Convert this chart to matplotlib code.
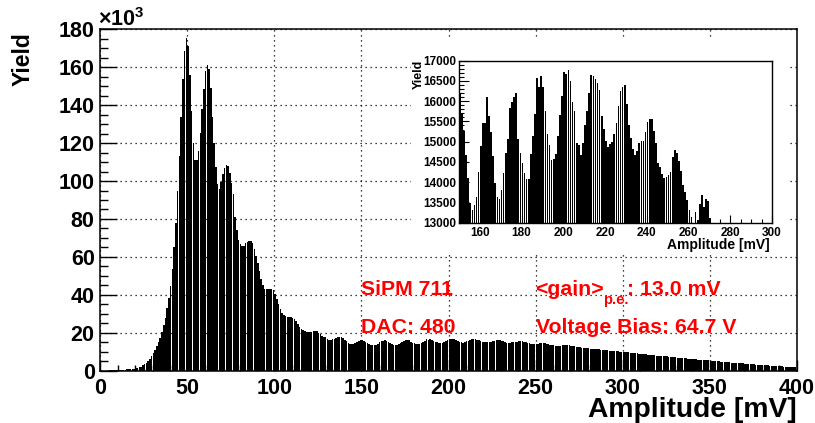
import matplotlib
matplotlib.use("Agg")
import matplotlib.pyplot as plt
from matplotlib.ticker import MultipleLocator

plt.rcParams['font.family'] = ['Liberation Sans', 'DejaVu Sans']
plt.rcParams['font.weight'] = 'bold'
plt.rcParams['mathtext.fontset'] = 'custom'
plt.rcParams['mathtext.rm'] = 'Liberation Sans:bold'
plt.rcParams['mathtext.it'] = 'Liberation Sans:bold'
plt.rcParams['mathtext.bf'] = 'Liberation Sans:bold'

# ---------------- data (1 mV bins, yield in thousands) ----------------
bin_low_edges_mV = list(range(0, 400))
yield_k = [
    # 0-9
    0.0, 0.0, 0.0, 0.1, 0.1, 0.2, 0.2, 0.3, 0.3, 0.4,
    # 10-19
    0.4, 0.5, 0.5, 0.6, 0.6, 0.7, 0.8, 0.9, 1.0, 1.1,
    # 20-29
    1.2, 1.5, 1.8, 2.2, 2.8, 3.4, 4.2, 5.2, 6.4, 7.8,
    # 30-39
    9.2, 11.0, 12.8, 15.0, 17.5, 20.5, 24.0, 28.0, 33.0, 38.5,
    # 40-49
    44.6, 53.6, 65.0, 78.0, 94.5, 113.0, 134.0, 153.6, 168.7, 175.5,
    # 50-59
    171.0, 156.0, 136.7, 120.0, 111.0, 111.0, 116.0, 125.5, 137.8, 148.5,
    # 60-69
    158.0, 161.0, 159.0, 149.0, 134.0, 120.0, 107.5, 98.4, 95.6, 99.6,
    # 70-79
    103.7, 106.7, 108.6, 108.0, 104.0, 99.0, 93.0, 81.0, 74.0, 69.0,
    # 80-89
    67.0, 65.7, 66.0, 67.5, 68.0, 68.4, 68.5, 67.5, 64.3, 60.5,
    # 90-99
    56.6, 52.5, 48.2, 45.0, 43.2, 42.9, 43.2, 43.2, 43.2, 42.5,
    # 100-109
    40.6, 38.0, 35.0, 32.3, 30.6, 29.2, 28.8, 28.5, 28.5, 28.3,
    # 110-119
    28.0, 27.4, 26.0, 24.4, 23.2, 22.1, 21.4, 20.7, 20.4, 20.4,
    # 120-129
    20.4, 20.4, 20.7, 20.9, 20.7, 20.0, 19.3, 18.5, 18.0, 17.6,
    # 130-139
    16.8, 16.4, 16.3, 16.5, 16.9, 17.3, 17.6, 17.8, 17.6, 17.0,
    # 140-149
    16.2, 15.4, 14.7, 14.2, 14.0, 14.1, 14.4, 14.9, 15.5, 16.0,
    # 150-159
    16.20, 15.70, 15.26, 14.675, 14.10, 13.49, 13.325, 13.43, 13.63, 14.24,
    # 160-169
    14.89, 15.45, 15.45, 16.11, 15.63, 15.24, 14.65, 13.975, 13.625, 13.58,
    # 170-179
    13.80, 14.23, 14.715, 15.07, 15.82, 15.99, 16.11, 16.21, 15.07, 14.73,
    # 180-189
    14.47, 14.23, 14.08, 14.08, 14.69, 15.14, 15.69, 16.585, 16.36, 16.625,
    # 190-199
    16.34, 15.75, 15.18, 14.91, 14.56, 14.585, 14.69, 15.15, 15.67, 16.13,
    # 200-209
    16.72, 16.68, 16.76, 16.50, 15.99, 15.75, 14.975, 14.91, 14.67, 14.96,
    # 210-219
    15.40, 15.75, 16.20, 16.64, 16.62, 16.56, 16.44, 16.28, 15.63, 15.32,
    # 220-229
    15.02, 14.88, 14.935, 14.99, 15.18, 15.45, 15.89, 16.25, 16.36, 16.40,
    # 230-239
    15.92, 15.42, 15.10, 14.81, 14.67, 14.77, 14.96, 15.02, 15.02, 15.24,
    # 240-249
    15.48, 15.56, 15.56, 15.26, 14.96, 14.47, 14.37, 14.20, 14.10, 14.12,
    # 250-259
    14.18, 14.24, 14.61, 14.80, 14.73, 14.53, 14.28, 13.935, 13.755, 13.55,
    # 260-269
    13.31, 13.15, 12.95, 13.27, 13.065, 13.45, 13.69, 13.39, 13.58, 13.53,
    # 270-279
    13.12, 12.90, 12.80, 12.60, 12.50, 12.30, 12.20, 12.10, 12.00, 11.90,
    # 280-289
    11.80, 11.70, 11.60, 11.50, 11.40, 11.30, 11.20, 11.10, 11.00, 10.90,
    # 290-299
    10.80, 10.70, 10.60, 10.60, 10.50, 10.40, 10.30, 10.20, 10.10, 10.00,
    # 300-309
    9.9, 9.8, 9.7, 9.6, 9.5, 9.4, 9.3, 9.2, 9.1, 9.0,
    # 310-319
    8.9, 8.8, 8.7, 8.6, 8.5, 8.4, 8.3, 8.2, 8.1, 8.0,
    # 320-329
    7.9, 7.8, 7.7, 7.6, 7.6, 7.5, 7.4, 7.3, 7.2, 7.1,
    # 330-339
    7.0, 6.9, 6.8, 6.8, 6.7, 6.6, 6.5, 6.4, 6.3, 6.2,
    # 340-349
    6.1, 6.0, 6.0, 5.9, 5.8, 5.7, 5.6, 5.5, 5.4, 5.4,
    # 350-359
    5.3, 5.2, 5.1, 5.0, 4.9, 4.9, 4.8, 4.7, 4.6, 4.5,
    # 360-369
    4.5, 4.4, 4.3, 4.2, 4.1, 4.1, 4.0, 3.9, 3.8, 3.8,
    # 370-379
    3.7, 3.6, 3.5, 3.5, 3.4, 3.3, 3.2, 3.2, 3.1, 3.0,
    # 380-389
    3.0, 2.9, 2.8, 2.8, 2.7, 2.6, 2.6, 2.5, 2.4, 2.4,
    # 390-399
    2.3, 2.3, 2.2, 2.1, 2.1, 2.0, 2.0, 1.9, 1.9, 1.8,
]
yield_counts = [v * 1000 for v in yield_k]

main_xticks = [0, 50, 100, 150, 200, 250, 300, 350, 400]
main_yticks = [0, 20, 40, 60, 80, 100, 120, 140, 160, 180]
inset_xticks = [160, 180, 200, 220, 240, 260, 280, 300]
inset_yticks = [13000, 13500, 14000, 14500, 15000, 15500, 16000, 16500, 17000]

# ---------------- figure ----------------
W, H = 815, 423
fig = plt.figure(figsize=(W / 100, H / 100), dpi=100)
fig.patch.set_facecolor('white')


def rect(x0, y0, x1, y1):
    return [x0 / W, 1 - y1 / H, (x1 - x0) / W, (y1 - y0) / H]


ax = fig.add_axes(rect(100.3, 29.3, 796.7, 370.7))
ax.bar(bin_low_edges_mV, yield_k, width=0.88, align='edge', color='black',
       linewidth=0, zorder=3)
ax.set_xlim(0, 400)
ax.set_ylim(0, 180)
ax.set_xticks(main_xticks)
ax.set_yticks(main_yticks)
ax.xaxis.set_minor_locator(MultipleLocator(10))
ax.yaxis.set_minor_locator(MultipleLocator(5))
ax.tick_params(which='both', direction='in', top=False, right=False,
               labelsize=15.5, width=1.0, color='black')
ax.tick_params(axis='y', which='major', length=12, pad=4)
ax.tick_params(axis='y', which='minor', length=6)
ax.tick_params(axis='x', which='major', length=8, pad=5)
ax.tick_params(axis='x', which='minor', length=4)
ax.grid(which='major', color='black', linestyle=(0, (1, 3)), linewidth=0.9, zorder=1)
for s in ax.spines.values():
    s.set_linewidth(1.1)
    s.set_zorder(5)
for lab in ax.get_xticklabels() + ax.get_yticklabels():
    lab.set_fontweight('bold')

fig.text(98 / W, 1 - 26 / H, r'$\times$10$^{3}$', fontsize=15.5,
         ha='left', va='baseline', fontweight='bold')
fig.text(23 / W, 1 - 32 / H, 'Yield', rotation=90, ha='center', va='top',
         fontsize=16.5, fontweight='bold')
fig.text(797 / W, 1 - 417 / H, 'Amplitude [mV]', ha='right', va='baseline',
         fontsize=20.3, fontweight='bold')

red = '#ff0000'
fs_red = 15.3
ax.text(150, 40, 'SiPM 711', color=red, fontsize=fs_red, fontweight='bold',
        ha='left', va='baseline', zorder=6)
ax.text(150, 20, 'DAC: 480', color=red, fontsize=fs_red, fontweight='bold',
        ha='left', va='baseline', zorder=6)
ax.text(250, 40, '<gain>', color=red, fontsize=fs_red, fontweight='bold',
        ha='left', va='baseline', zorder=6)
ax.text(288.8, 35.3, 'p.e.', color=red, fontsize=10.5, fontweight='bold',
        ha='left', va='baseline', zorder=6)
ax.text(302.5, 40, ': 13.0 mV', color=red, fontsize=fs_red, fontweight='bold',
        ha='left', va='baseline', zorder=6)
ax.text(250, 20, 'Voltage Bias: 64.7 V', color=red, fontsize=fs_red,
        fontweight='bold', ha='left', va='baseline', zorder=6)

# white pad behind the inset
pad = fig.add_axes(rect(411, 40, 789, 254))
pad.set_facecolor('white')
pad.set_xticks([])
pad.set_yticks([])
for s in pad.spines.values():
    s.set_visible(False)

# inset
ins = fig.add_axes(rect(459, 60.7, 772, 222.7))
ins.bar(bin_low_edges_mV, yield_counts, width=0.8, align='edge', color='black',
        linewidth=0, zorder=3)
ins.set_xlim(150, 300)
ins.set_ylim(13000, 17000)
ins.set_xticks(inset_xticks)
ins.set_yticks(inset_yticks)
ins.xaxis.set_minor_locator(MultipleLocator(5))
ins.yaxis.set_minor_locator(MultipleLocator(100))
ins.tick_params(which='both', direction='in', top=False, right=False,
                labelsize=8.5, width=0.8)
ins.tick_params(axis='y', which='major', length=7, pad=2)
ins.tick_params(axis='y', which='minor', length=3.5)
ins.tick_params(axis='x', which='major', length=6, pad=3)
ins.tick_params(axis='x', which='minor', length=3)
for s in ins.spines.values():
    s.set_linewidth(1.0)
    s.set_zorder(5)
for lab in ins.get_xticklabels() + ins.get_yticklabels():
    lab.set_fontweight('bold')

fig.text(419 / W, 1 - 60 / H, 'Yield', rotation=90, ha='center', va='top',
         fontsize=9, fontweight='bold')
fig.text(770 / W, 1 - 249 / H, 'Amplitude [mV]', ha='right', va='baseline',
         fontsize=10, fontweight='bold')

fig.savefig('out.png', dpi=100, facecolor='white')
